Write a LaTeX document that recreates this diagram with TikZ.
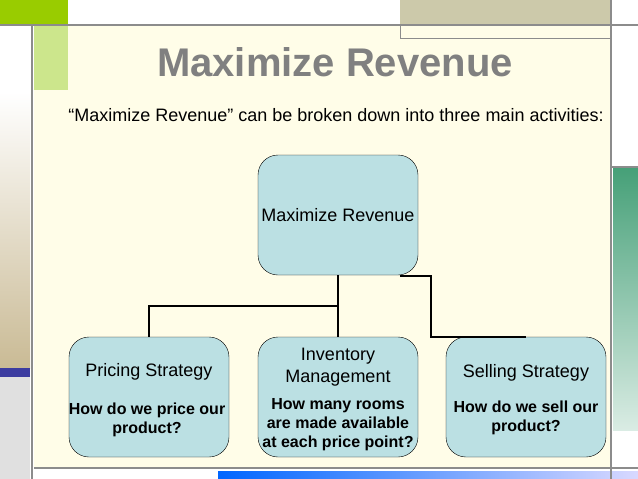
\documentclass[tikz,border=0pt]{standalone}
\usepackage{fontspec}
\setmainfont{Liberation Sans}
\usetikzlibrary{positioning}
\definecolor{cream}{RGB}{255,253,232}
\definecolor{boxfill}{RGB}{187,224,227}
\definecolor{framegray}{RGB}{140,140,140}
\definecolor{barlime}{RGB}{153,204,0}
\definecolor{palelime}{RGB}{204,230,140}
\definecolor{tan}{RGB}{204,201,170}
\definecolor{titlegray}{RGB}{128,128,128}
\definecolor{deepgreen}{RGB}{70,160,120}
\definecolor{barblue}{RGB}{60,60,160}
\tikzset{
	activity/.style={draw, fill=boxfill, rounded corners=20pt, minimum width=160pt,
		minimum height=120pt, inner sep=1pt, align=center, font=\fontsize{18}{20}\selectfont},
	question/.style={font=\bfseries\fontsize{16}{19}\selectfont, align=center},
	link/.style={draw, line width=1.4pt}
}
\begin{document}
\begin{tikzpicture}[x=1pt,y=-1pt]
\useasboundingbox (0,0) rectangle (638,479);
% slide background
\fill[white] (0,0) rectangle (638,479);
\fill[cream] (34,25) rectangle (610,467);
\fill[barlime] (0,0) rectangle (68,24);
\fill[palelime] (34,25) rectangle (68,90);
\fill[tan] (400,0) rectangle (610,24);
\draw[framegray] (400,24) rectangle (610,38);
\shade[top color=white, bottom color=tan!80!brown] (0,92) rectangle (30,368);
\fill[barblue] (0,368) rectangle (30,377);
\fill[black!12] (0,377) rectangle (30,479);
\shade[top color=deepgreen, bottom color=deepgreen!20] (613,168) rectangle (638,430);
\shade[left color=blue!60!cyan, right color=blue!15] (218,471) rectangle (638,479);
\draw[framegray, line width=2.5pt] (0,25) -- (638,25);
\draw[framegray, line width=2.5pt] (32,25) -- (32,479);
\draw[framegray, line width=2.5pt] (611,0) -- (611,479);
\draw[framegray, line width=2.5pt] (34,468) -- (638,468);
\draw[framegray, line width=1.5pt] (611,167) -- (638,167);

% title and lead
\node[text=titlegray, font=\bfseries\fontsize{40}{44}\selectfont] (title) at (335,62) {Maximize Revenue};
\node[font=\fontsize{18}{20}\selectfont] (lead) at (336,115) {“Maximize Revenue” can be broken down into three main activities:};

% tree
\node[activity] (revenue) at (338,215) {Maximize Revenue};
\node[activity] (pricing) at (149,397) {};
\node[activity] (inventory) at (338,397) {};
\node[activity] (selling) at (526,397) {};
\node (pricingtxt) at (149,372) {\fontsize{18}{20}\selectfont Pricing Strategy};
\node[question] (pricingq) at (147,420) {How do we price our\\product?};
\node[align=center, font=\fontsize{18}{22}\selectfont] (inventorytxt) at (338,367) {Inventory\\Management};
\node[question] (inventoryq) at (338,425) {How many rooms\\are made available\\at each price point?};
\node (sellingtxt) at (526,373) {\fontsize{18}{20}\selectfont Selling Strategy};
\node[question] (sellingq) at (526,418) {How do we sell our\\product?};

\coordinate (split) at (338,306);
\coordinate (rightbend) at (431,276);
\path[link] (revenue.south) -- (inventory.north);
\path[link] (split) -| (pricing.north);
\path[link] (400,276) -- (rightbend) |- (selling.north);
\end{tikzpicture}
\end{document}
